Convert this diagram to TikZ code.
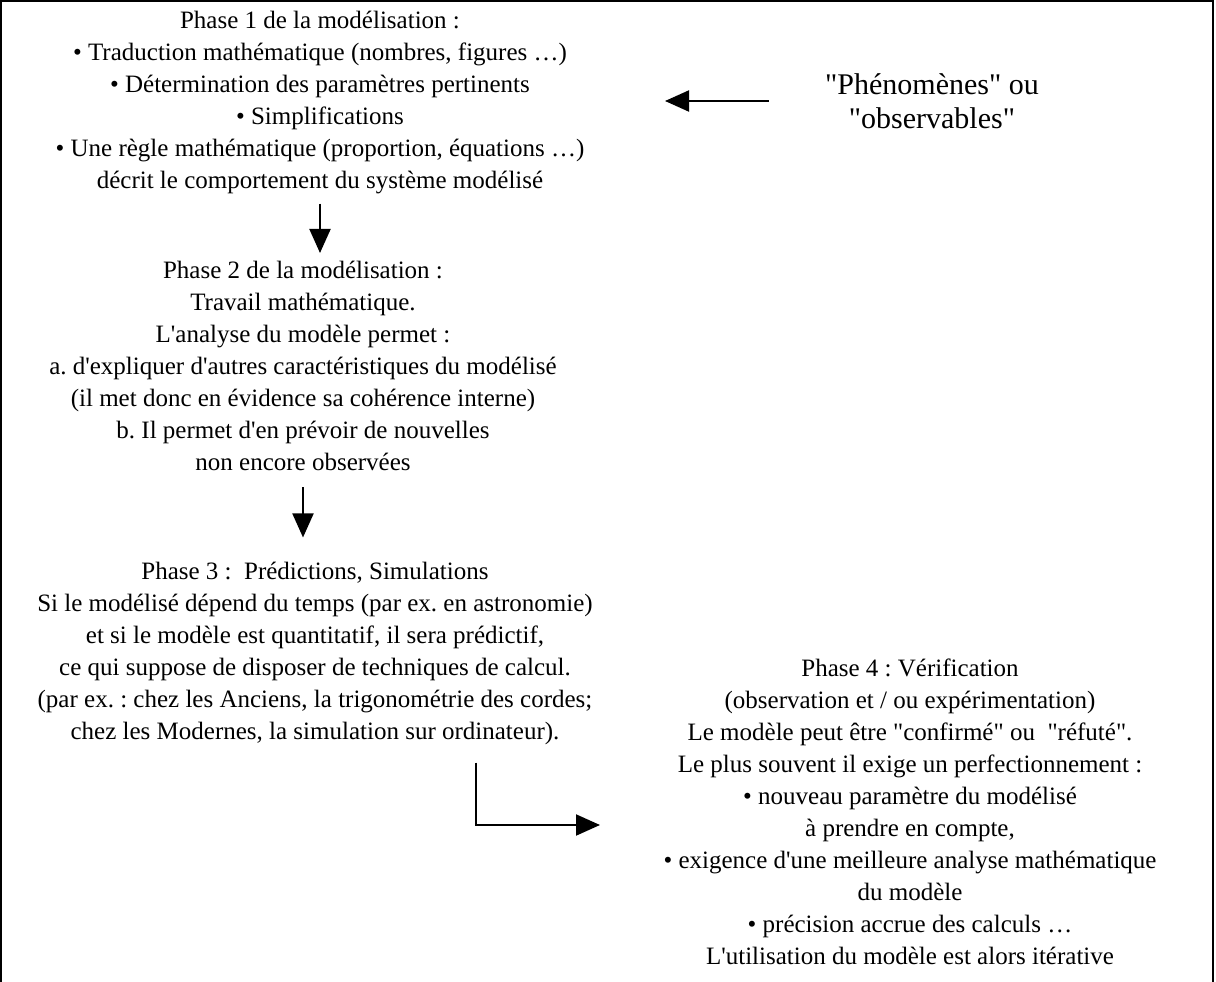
\documentclass[tikz,border=0pt]{standalone}
\usepackage{fontspec}
\setmainfont{Liberation Serif}[Ligatures=TeXOff]
\usetikzlibrary{arrows.meta}
\frenchspacing

\begin{document}
\begin{tikzpicture}[x=1pt,y=-1pt,
textblock/.style={align=center, inner sep=0pt, font=\fontsize{25}{32}\selectfont},
bigtext/.style={align=center, inner sep=0pt, font=\fontsize{30}{34}\selectfont},
bigarrow/.style={line width=2pt, -{Triangle[length=24pt,width=21pt]}}
]
    \useasboundingbox (0,0) rectangle (1216,982);
    % frame, open at the bottom
    \draw [line width=2pt] (1,982) -- (1,1) -- (1213,1) -- (1213,982);

    \node [textblock] (phase1) at (320,103) {Phase 1 de la modélisation :\\
      • Traduction mathématique (nombres, figures …)\\
      • Détermination des paramètres pertinents\\
      • Simplifications\\
      • Une règle mathématique (proportion, équations …)\\
      décrit le comportement du système modélisé};
    \node [textblock] (phase2) at (303,366) {Phase 2 de la modélisation :\\
      Travail mathématique.\\
      L'analyse du modèle permet :\\
      a. d'expliquer d'autres caractéristiques du modélisé\\
      (il met donc en évidence sa cohérence interne)\\
      b. Il permet d'en prévoir de nouvelles\\
      non encore observées};
    \node [textblock] (phase3) at (315,653) {Phase 3 :\ \ Prédictions, Simulations\\
      Si le modélisé dépend du temps (par ex. en astronomie)\\
      et si le modèle est quantitatif, il sera prédictif,\\
      ce qui suppose de disposer de techniques de calcul.\\
      (par ex. : chez les Anciens, la trigonométrie des cordes;\\
      chez les Modernes, la simulation sur ordinateur).};
    \node [textblock] (phase4) at (910,812) {Phase 4 : Vérification\\
      (observation et / ou expérimentation)\\
      Le modèle peut être "confirmé" ou\ \ "réfuté".\\
      Le plus souvent il exige un perfectionnement :\\
      • nouveau paramètre du modélisé\\
      à prendre en compte,\\
      • exigence d'une meilleure analyse mathématique\\
      du modèle\\
      • précision accrue des calculs …\\
      L'utilisation du modèle est alors itérative};
    \node [bigtext] (obs) at (932,101) {"Phénomènes" ou\\ "observables"};

    % x positions of the arrows
    \coordinate (arr1) at (320,0);
    \coordinate (arr2) at (303,0);
    \coordinate (arr3) at (665,101);
    \coordinate (elb) at (476,825);

    \draw [bigarrow, shorten <=9pt, shorten >=8pt] (phase1.south -| arr1) -- (phase2.north -| arr1);
    \draw [bigarrow, shorten <=16pt, shorten >=24pt] (phase2.south -| arr2) -- (phase3.north -| arr2);
    \draw [bigarrow, shorten <=56pt] (obs.west |- arr3) -- (arr3);
    \draw [bigarrow, shorten <=18pt] (phase3.south -| elb) -- (elb) -- ++(124,0);
\end{tikzpicture}
\end{document}
